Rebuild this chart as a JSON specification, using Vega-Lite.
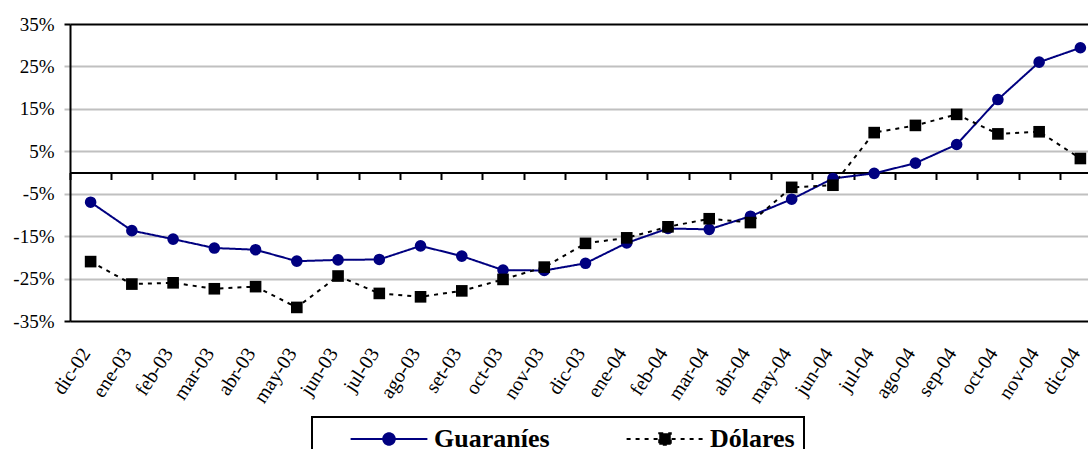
{
  "$schema": "https://vega.github.io/schema/vega-lite/v6.json",
  "width": 1018,
  "height": 297,
  "autosize": {"type": "none"},
  "padding": {"left": 70, "top": 24, "right": 0, "bottom": 128},
  "background": "white",
  "config": {"view": {"stroke": null}, "font": "Liberation Serif", "axis": {"labelFont": "Liberation Serif"}},
  "data": {"values": [
    {"mes": "dic-02", "serie": "Guaraníes", "valor": -7.0},
    {"mes": "ene-03", "serie": "Guaraníes", "valor": -13.7},
    {"mes": "feb-03", "serie": "Guaraníes", "valor": -15.7},
    {"mes": "mar-03", "serie": "Guaraníes", "valor": -17.8},
    {"mes": "abr-03", "serie": "Guaraníes", "valor": -18.2},
    {"mes": "may-03", "serie": "Guaraníes", "valor": -20.9},
    {"mes": "jun-03", "serie": "Guaraníes", "valor": -20.6},
    {"mes": "jul-03", "serie": "Guaraníes", "valor": -20.5},
    {"mes": "ago-03", "serie": "Guaraníes", "valor": -17.3},
    {"mes": "set-03", "serie": "Guaraníes", "valor": -19.7},
    {"mes": "oct-03", "serie": "Guaraníes", "valor": -23.0},
    {"mes": "nov-03", "serie": "Guaraníes", "valor": -23.1},
    {"mes": "dic-03", "serie": "Guaraníes", "valor": -21.4},
    {"mes": "ene-04", "serie": "Guaraníes", "valor": -16.6},
    {"mes": "feb-04", "serie": "Guaraníes", "valor": -13.2},
    {"mes": "mar-04", "serie": "Guaraníes", "valor": -13.4},
    {"mes": "abr-04", "serie": "Guaraníes", "valor": -10.3},
    {"mes": "may-04", "serie": "Guaraníes", "valor": -6.3},
    {"mes": "jun-04", "serie": "Guaraníes", "valor": -1.4},
    {"mes": "jul-04", "serie": "Guaraníes", "valor": -0.2},
    {"mes": "ago-04", "serie": "Guaraníes", "valor": 2.2},
    {"mes": "sep-04", "serie": "Guaraníes", "valor": 6.6},
    {"mes": "oct-04", "serie": "Guaraníes", "valor": 17.2},
    {"mes": "nov-04", "serie": "Guaraníes", "valor": 26.0},
    {"mes": "dic-04", "serie": "Guaraníes", "valor": 29.4},
    {"mes": "dic-02", "serie": "Dólares", "valor": -21.0},
    {"mes": "ene-03", "serie": "Dólares", "valor": -26.3},
    {"mes": "feb-03", "serie": "Dólares", "valor": -26.0},
    {"mes": "mar-03", "serie": "Dólares", "valor": -27.4},
    {"mes": "abr-03", "serie": "Dólares", "valor": -26.9},
    {"mes": "may-03", "serie": "Dólares", "valor": -31.8},
    {"mes": "jun-03", "serie": "Dólares", "valor": -24.4},
    {"mes": "jul-03", "serie": "Dólares", "valor": -28.5},
    {"mes": "ago-03", "serie": "Dólares", "valor": -29.3},
    {"mes": "set-03", "serie": "Dólares", "valor": -27.9},
    {"mes": "oct-03", "serie": "Dólares", "valor": -25.2},
    {"mes": "nov-03", "serie": "Dólares", "valor": -22.3},
    {"mes": "dic-03", "serie": "Dólares", "valor": -16.7},
    {"mes": "ene-04", "serie": "Dólares", "valor": -15.4},
    {"mes": "feb-04", "serie": "Dólares", "valor": -12.8},
    {"mes": "mar-04", "serie": "Dólares", "valor": -10.9},
    {"mes": "abr-04", "serie": "Dólares", "valor": -11.8},
    {"mes": "may-04", "serie": "Dólares", "valor": -3.5},
    {"mes": "jun-04", "serie": "Dólares", "valor": -3.0},
    {"mes": "jul-04", "serie": "Dólares", "valor": 9.4},
    {"mes": "ago-04", "serie": "Dólares", "valor": 11.1},
    {"mes": "sep-04", "serie": "Dólares", "valor": 13.7},
    {"mes": "oct-04", "serie": "Dólares", "valor": 9.1},
    {"mes": "nov-04", "serie": "Dólares", "valor": 9.6},
    {"mes": "dic-04", "serie": "Dólares", "valor": 3.3}
  ]},
  "encoding": {
    "x": {
      "field": "mes", "type": "nominal", "sort": null,
      "scale": {"range": [0, 1031], "paddingInner": 0, "paddingOuter": 0},
      "axis": {
        "title": null, "orient": "bottom", "offset": -148.5,
        "domainColor": "black", "domainWidth": 2,
        "ticks": true, "tickColor": "black", "tickWidth": 2, "tickSize": 7, "tickBand": "extent",
        "labelAngle": -57, "labelPadding": 170, "labelOffset": -5, "labelFont": "Liberation Serif", "labelFontSize": 20,
        "labelColor": "black", "grid": false
      }
    },
    "y": {
      "field": "valor", "type": "quantitative",
      "scale": {"domain": [-35, 35], "nice": false, "zero": false},
      "axis": {
        "title": null, "values": [-35, -25, -15, -5, 5, 15, 25, 35],
        "labelExpr": "datum.value + '%'",
        "labelFont": "Liberation Serif", "labelFontSize": 19, "labelColor": "black", "labelPadding": 10,
        "domainColor": "black", "domainWidth": 2,
        "tickSize": 6, "tickWidth": 2,
        "tickColor": {"condition": {"test": "abs(datum.value) == 35", "value": "black"}, "value": "#c0c0c0"},
        "grid": true, "gridWidth": 2,
        "gridColor": {"condition": {"test": "abs(datum.value) == 35", "value": "black"}, "value": "#c0c0c0"},
        "gridOpacity": 1
      }
    }
  },
  "layer": [
    {
      "mark": {"type": "line", "strokeWidth": 2},
      "encoding": {
        "color": {
          "field": "serie", "type": "nominal",
          "scale": {"domain": ["Guaraníes", "Dólares"], "range": ["#000080", "#000000"]},
          "legend": {
            "title": null, "orient": "none", "legendX": 242, "legendY": 393,
            "direction": "horizontal", "columns": 2,
            "strokeColor": "black", "fillColor": "white", "padding": 9,
            "symbolSize": 576, "symbolOffset": 55, "labelOffset": 32, "columnPadding": 47,
            "labelFont": "Liberation Serif", "labelFontSize": 26, "labelFontWeight": "bold", "labelColor": "black",
            "symbolStrokeWidth": 2,
            "encode": {
              "legend": {"update": {"stroke": {"value": "black"}, "strokeWidth": {"value": 2}}},
              "symbols": {"update": {
                "shape": {"signal": "datum.value === 'Guaraníes' ? 'M-3.2,0H3.2M0.48,0A0.48,0.48,0,1,1,-0.48,0A0.48,0.48,0,1,1,0.48,0Z' : 'M-3.2,0H3.2M-0.48,-0.48H0.48V0.48H-0.48Z'"},
                "stroke": {"signal": "datum.value === 'Guaraníes' ? '#000080' : '#000000'"},
                "fill": {"signal": "datum.value === 'Guaraníes' ? '#000080' : '#000000'"},
                "strokeDash": {"signal": "datum.value === 'Guaraníes' ? [1,0] : [4,5]"},
                "strokeWidth": {"value": 2},
                "opacity": {"value": 1}
              }}
            }
          }
        },
        "strokeDash": {
          "field": "serie", "type": "nominal",
          "scale": {"domain": ["Guaraníes", "Dólares"], "range": [[1, 0], [4, 5]]},
          "legend": null
        }
      }
    },
    {
      "transform": [{"filter": "datum.serie === 'Guaraníes'"}],
      "mark": {"type": "point", "shape": "circle", "filled": true, "opacity": 1, "size": 135, "color": "#000080"}
    },
    {
      "transform": [{"filter": "datum.serie === 'Dólares'"}],
      "mark": {"type": "point", "shape": "square", "filled": true, "opacity": 1, "size": 135, "color": "#000000"}
    }
  ]
}
